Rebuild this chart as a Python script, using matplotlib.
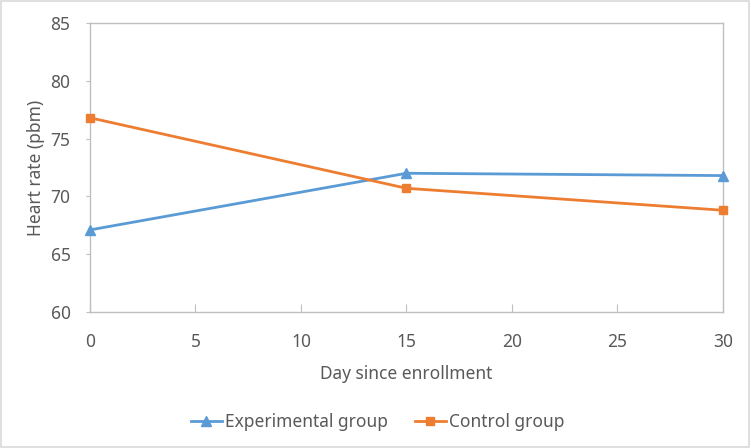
import matplotlib.pyplot as plt
from matplotlib.patches import Rectangle

plt.rcParams['font.family'] = ['Noto Sans', 'DejaVu Sans']

days = [0, 15, 30]
experimental = [67.1, 72.0, 71.8]
control = [76.8, 70.7, 68.8]
x_ticks = [0, 5, 10, 15, 20, 25, 30]
y_ticks = [60, 65, 70, 75, 80, 85]

text_col = '#595959'
axis_col = '#BFBFBF'
fs = 12.5

fig = plt.figure(figsize=(7.51, 4.48), dpi=100)
ax = fig.add_axes([0.1198, 0.3036, 0.8429, 0.6451])

ax.plot(days, experimental, color='#5B9BD5', lw=2, marker='^', ms=6.5,
        label='Experimental group', clip_on=False, zorder=3)
ax.plot(days, control, color='#ED7D31', lw=2, marker='s', ms=6,
        label='Control group', clip_on=False, zorder=3)

ax.set_xlim(0, 30)
ax.set_ylim(60, 85)
ax.set_xticks(x_ticks)
ax.set_yticks(y_ticks)
for s in ax.spines.values():
    s.set_color(axis_col)
    s.set_linewidth(1)
ax.tick_params(axis='x', direction='in', length=6, color=axis_col, labelcolor=text_col,
               labelsize=fs, pad=15)
ax.tick_params(axis='y', direction='out', length=3, color=axis_col, labelcolor=text_col,
               labelsize=fs, pad=11)

ax.set_xlabel('Day since enrollment', fontsize=fs, color=text_col, labelpad=10)
ax.set_ylabel('Heart rate (pbm)', fontsize=fs, color=text_col, labelpad=4)

fig.legend(loc='center', bbox_to_anchor=(0.503, 0.058), ncol=2, frameon=False,
           fontsize=fs, labelcolor=text_col, handlelength=1.8, columnspacing=1.5,
           handletextpad=0.2)

fig.patches.append(Rectangle((0.001, 0.002), 0.997, 0.996, transform=fig.transFigure,
                             fill=False, edgecolor='#D9D9D9', lw=1.2))

fig.savefig('out.png', dpi=100)
